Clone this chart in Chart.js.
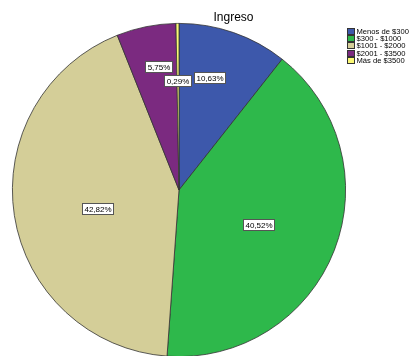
<!DOCTYPE html>
<html>
<head>
<meta charset="utf-8">
<script src="https://cdn.jsdelivr.net/npm/chart.js@4.4.0/dist/chart.umd.min.js"></script>
<style>
html,body{margin:0;padding:0;background:#fff;overflow:hidden;}
#wrap{position:relative;width:411px;height:356px;overflow:hidden;}
#box{position:absolute;left:0;top:0;width:411px;height:380px;}
</style>
</head>
<body>
<div id="wrap"><div id="box"><canvas id="c" width="411" height="380"></canvas></div></div>
<script>
// ---- data ----
const chartTitle = "Ingreso";
const categories = ["Menos de $300", "$300 - $1000", "$1001 - $2000", "$2001 - $3500", "Más de $3500"];
const percentages = [10.63, 40.52, 42.82, 5.75, 0.29];

// ---- styles ----
const sliceColors = ["#3d58ab", "#2eb84b", "#d4ce98", "#7b2a80", "#fbf874"];
// label placement: [radius fraction, angle offset in degrees]
const labelPlace = [[0.70, -4], [0.52, 2], [0.50, -4], [0.75, 2], [0.66, -0.5]];

const FONT = '"Liberation Sans", Arial, sans-serif';

const overlay = {
  id: 'overlay',
  afterDraw(chart) {
    const ctx = chart.ctx;
    const meta = chart.getDatasetMeta(0);
    ctx.save();
    // title
    ctx.fillStyle = '#000';
    ctx.font = '12px ' + FONT;
    ctx.textAlign = 'center';
    ctx.textBaseline = 'alphabetic';
    ctx.fillText(chartTitle, 233.5, 21);
    // slice labels
    ctx.font = '8px ' + FONT;
    ctx.textBaseline = 'middle';
    meta.data.forEach((arc, i) => {
      const p = arc.getProps(['x', 'y', 'startAngle', 'endAngle', 'outerRadius'], true);
      const a = (p.startAngle + p.endAngle) / 2 + labelPlace[i][1] * Math.PI / 180;
      const r = p.outerRadius * labelPlace[i][0];
      const cx = p.x + Math.cos(a) * r;
      const cy = p.y + Math.sin(a) * r;
      const txt = percentages[i].toFixed(2).replace('.', ',') + '%';
      const w = Math.round(ctx.measureText(txt).width) + 4;
      const h = 11;
      const bx = Math.round(cx - w / 2) + 0.5, by = Math.round(cy - h / 2) + 0.5;
      ctx.fillStyle = '#fff';
      ctx.fillRect(bx, by, w, h);
      ctx.strokeStyle = '#555';
      ctx.lineWidth = 1;
      ctx.strokeRect(bx, by, w, h);
      ctx.fillStyle = '#000';
      ctx.textAlign = 'center';
      ctx.fillText(txt, bx + w / 2, by + h / 2 + 0.5);
    });
    // legend
    ctx.textAlign = 'left';
    ctx.font = '7.6px ' + FONT;
    categories.forEach((c, i) => {
      const y = 27.5 + i * 7.4;
      ctx.fillStyle = sliceColors[i];
      ctx.fillRect(347.5, Math.round(y) + 0.5, 7, 6);
      ctx.strokeStyle = '#333';
      ctx.strokeRect(347.5, Math.round(y) + 0.5, 7, 6);
      ctx.fillStyle = '#000';
      ctx.fillText(c, 356.5, Math.round(y) + 4);
    });
    ctx.restore();
  }
};

new Chart(document.getElementById('c'), {
  type: 'pie',
  data: {
    labels: categories,
    datasets: [{
      data: percentages,
      backgroundColor: sliceColors,
      borderColor: '#333',
      borderWidth: 0.8
    }]
  },
  options: {
    responsive: false,
    animation: false,
    layout: { padding: { left: 12, right: 65, top: 23, bottom: 23 } },
    plugins: {
      legend: { display: false },
      title: { display: false },
      tooltip: { enabled: false }
    }
  },
  plugins: [overlay]
});
</script>
</body>
</html>
